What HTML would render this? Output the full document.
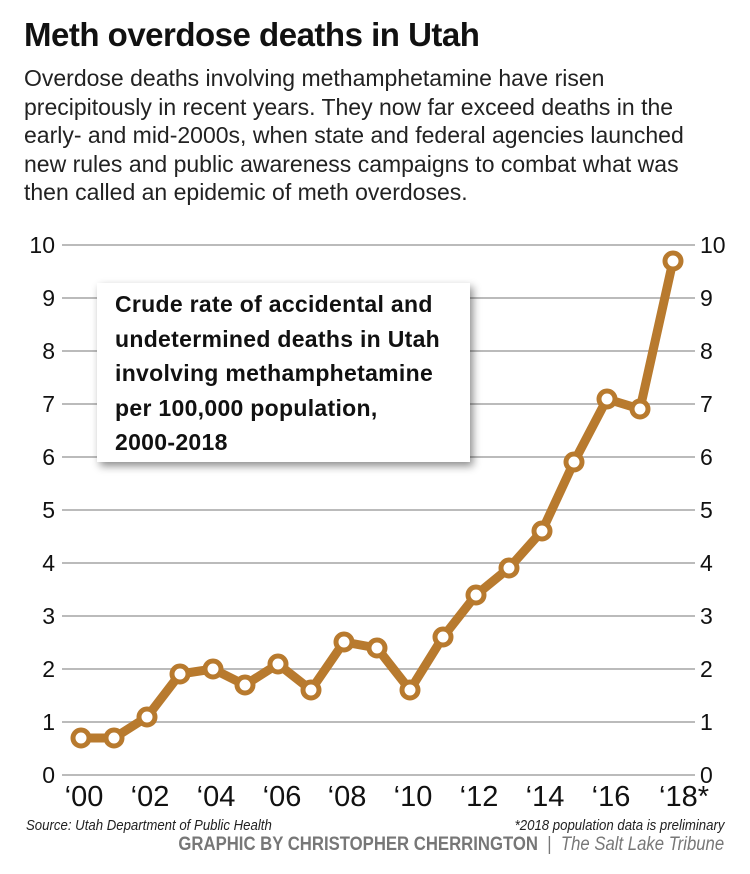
<!DOCTYPE html>
<html><head><meta charset="utf-8"><style>
body{margin:0;width:750px;height:874px;background:#fff;overflow:hidden;font-family:"Liberation Sans",sans-serif;position:relative}
h1{position:absolute;left:24px;top:16px;margin:0;font-size:33px;font-weight:bold;letter-spacing:-0.5px;color:#111}
.dek{position:absolute;left:24px;top:64px;font-size:23px;line-height:28.5px;color:#222;white-space:nowrap}
.box{position:absolute;left:97px;top:283px;width:373px;height:179px;background:#fff;box-shadow:3px 4px 8px rgba(0,0,0,.45)}
.box div{position:absolute;left:18px;top:4px;font-size:23px;font-weight:bold;line-height:34.5px;color:#111;letter-spacing:0.3px;white-space:nowrap}
.src{position:absolute;left:26px;top:817px;font-size:15px;font-style:italic;color:#222;transform:scaleX(.88);transform-origin:left;white-space:nowrap}
.note{position:absolute;right:26px;top:817px;font-size:15px;font-style:italic;color:#222;transform:scaleX(.88);transform-origin:right;white-space:nowrap}
.cred{position:absolute;right:26px;top:834px;font-size:19px;color:#777;white-space:nowrap;transform:scaleX(.88);transform-origin:right}
</style></head><body>
<h1>Meth overdose deaths in Utah</h1>
<div class="dek">Overdose deaths involving methamphetamine have risen<br>precipitously in recent years. They now far exceed deaths in the<br>early- and mid-2000s, when state and federal agencies launched<br>new rules and public awareness campaigns to combat what was<br>then called an epidemic of meth overdoses.</div>
<svg width="750" height="874" style="position:absolute;left:0;top:0" font-family="Liberation Sans, sans-serif">
<g stroke="#bbb" stroke-width="2">
<line x1="62" x2="695" y1="775" y2="775"/><line x1="62" x2="695" y1="722" y2="722"/><line x1="62" x2="695" y1="669" y2="669"/><line x1="62" x2="695" y1="616" y2="616"/><line x1="62" x2="695" y1="563" y2="563"/><line x1="62" x2="695" y1="510" y2="510"/><line x1="62" x2="695" y1="457" y2="457"/><line x1="62" x2="695" y1="404" y2="404"/><line x1="62" x2="695" y1="351" y2="351"/><line x1="62" x2="695" y1="298" y2="298"/><line x1="62" x2="695" y1="245" y2="245"/>
</g>
<g font-size="23" fill="#111" text-anchor="end">
<text x="55" y="783">0</text><text x="55" y="730">1</text><text x="55" y="677">2</text><text x="55" y="624">3</text><text x="55" y="571">4</text><text x="55" y="518">5</text><text x="55" y="465">6</text><text x="55" y="412">7</text><text x="55" y="359">8</text><text x="55" y="306">9</text><text x="55" y="253">10</text>
</g>
<g font-size="23" fill="#111" text-anchor="start">
<text x="700" y="783">0</text><text x="700" y="730">1</text><text x="700" y="677">2</text><text x="700" y="624">3</text><text x="700" y="571">4</text><text x="700" y="518">5</text><text x="700" y="465">6</text><text x="700" y="412">7</text><text x="700" y="359">8</text><text x="700" y="306">9</text><text x="700" y="253">10</text>
</g>
<g font-size="29" fill="#111" text-anchor="middle" transform="translate(0,806)">
<text x="84">‘00</text><text x="150">‘02</text><text x="216">‘04</text><text x="282">‘06</text><text x="347">‘08</text><text x="413">‘10</text><text x="479">‘12</text><text x="545">‘14</text><text x="611">‘16</text><text x="684">‘18*</text>
</g>
<polyline fill="none" stroke="#b87a2e" stroke-width="9" stroke-linejoin="round" points="81,738 114,738 147,717 180,674 213,669 245,685 278,664 311,690 344,642 377,648 410,690 443,637 476,595 509,568 542,531 574,462 607,399 640,409 673,261"/>
<g fill="#fff" stroke="#b87a2e" stroke-width="5">
<circle cx="81" cy="738" r="8"/><circle cx="114" cy="738" r="8"/><circle cx="147" cy="717" r="8"/><circle cx="180" cy="674" r="8"/><circle cx="213" cy="669" r="8"/><circle cx="245" cy="685" r="8"/><circle cx="278" cy="664" r="8"/><circle cx="311" cy="690" r="8"/><circle cx="344" cy="642" r="8"/><circle cx="377" cy="648" r="8"/><circle cx="410" cy="690" r="8"/><circle cx="443" cy="637" r="8"/><circle cx="476" cy="595" r="8"/><circle cx="509" cy="568" r="8"/><circle cx="542" cy="531" r="8"/><circle cx="574" cy="462" r="8"/><circle cx="607" cy="399" r="8"/><circle cx="640" cy="409" r="8"/><circle cx="673" cy="261" r="8"/>
</g>
</svg>
<div class="box"><div>Crude rate of accidental and<br>undetermined deaths in Utah<br>involving methamphetamine<br>per 100,000 population,<br>2000-2018</div></div>
<div class="src">Source: Utah Department of Public Health</div>
<div class="note">*2018 population data is preliminary</div>
<div class="cred"><b>GRAPHIC BY CHRISTOPHER CHERRINGTON</b> &nbsp;|&nbsp; <i>The Salt Lake Tribune</i></div>
</body></html>
